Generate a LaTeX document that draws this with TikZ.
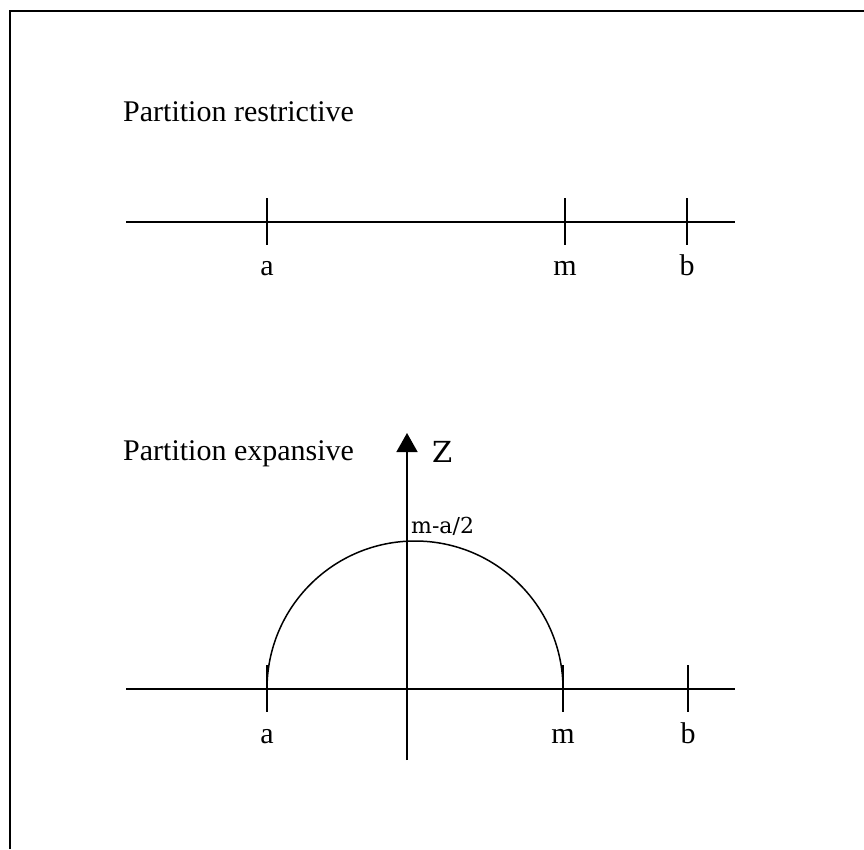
\documentclass[tikz,border=0pt]{standalone}
\usepackage{fontspec}
\setmainfont{Liberation Serif}
\newfontfamily\dvs{DejaVu Serif}
\usetikzlibrary{arrows.meta}
\begin{document}
\begin{tikzpicture}[x=1pt,y=-1pt,
  ln/.style={line width=1.5pt},
  ttl/.style={anchor=base west,inner sep=0pt,font=\fontsize{30}{36}\selectfont},
  lbl/.style={anchor=base,inner sep=0pt,font=\fontsize{30}{36}\selectfont}]
\useasboundingbox (0,0) rectangle (864,849);
% frame
\coordinate (fTL) at (10,11);
\coordinate (fTR) at (864,11);
\coordinate (fBL) at (10,849);
\draw[line width=2pt] (fBL) -- (fTL) -- (fTR);
% restrictive
\node[ttl] (t1) at (123,121) {Partition restrictive};
\coordinate (l1s) at (126,222);
\coordinate (l1e) at (735,222);
\draw[ln] (l1s) -- (l1e);
\foreach \x/\n in {267/a,565/m,687/b}{
  \coordinate (u\n top) at (\x,198);
  \coordinate (u\n bot) at (\x,245);
  \draw[ln] (u\n top) -- (u\n bot);
  \node[lbl] (ul\n) at (\x,275) {\n};
}
% expansive
\node[ttl] (t2) at (123,460) {Partition expansive};
\coordinate (l2s) at (126,689);
\coordinate (l2e) at (735,689);
\draw[ln] (l2s) -- (l2e);
\foreach \x/\n in {267/a,563/m,688/b}{
  \coordinate (d\n top) at (\x,665);
  \coordinate (d\n bot) at (\x,712);
  \draw[ln] (d\n top) -- (d\n bot);
  \node[lbl] (dl\n) at (\x,743) {\n};
}
% axis
\coordinate (axb) at (407,760);
\coordinate (axt) at (407,433);
\draw[ln,-{Triangle[length=19pt,width=21pt]}] (axb) -- (axt);
\node[anchor=base west,inner sep=0pt,font=\dvs\fontsize{29}{34}\selectfont] (z) at (432,462) {Z};
% semicircle
\coordinate (arcL) at (267,689);
\draw[ln] (arcL) arc[start angle=180,end angle=0,x radius=148,y radius=-148];
\node[anchor=base west,inner sep=0pt,font=\dvs\fontsize{22}{26}\selectfont] (ma) at (411,533) {m-a/2};
\end{tikzpicture}
\end{document}
